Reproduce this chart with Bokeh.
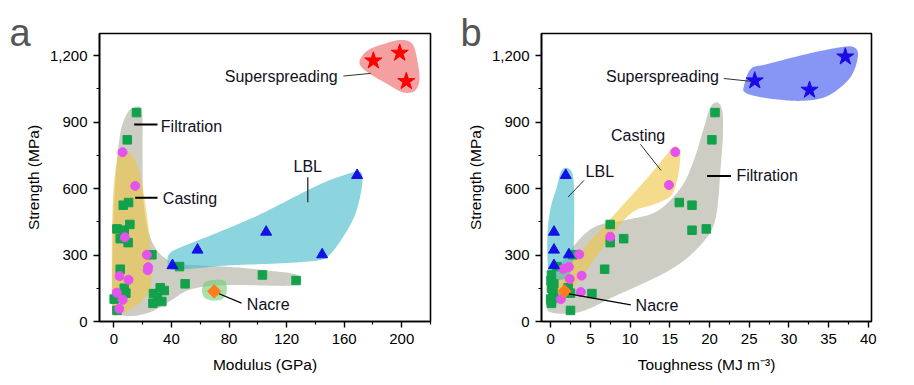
import numpy as np
from bokeh.plotting import figure
from bokeh.layouts import row
from bokeh.models import FixedTicker, NumeralTickFormatter, Label, Range1d
from bokeh.embed import file_html
from bokeh.resources import INLINE

FONT = "Liberation Sans"

# ---------------- data ----------------
# Superspreading
ss_modulus = [180.3, 198.6, 203.2]
ss_strength_a = [1177, 1212, 1084]
ss_toughness = [25.7, 32.6, 37.1]
ss_strength_b = [1087, 1045, 1195]

# LBL
lbl_strength = [253, 323, 404, 302, 660]
lbl_modulus = [40.7, 58.1, 105.8, 144.7, 169.0]
lbl_toughness = [0.42, 0.42, 0.42, 2.3, 1.9]

# Nacre
nacre_strength = [136]
nacre_modulus = [69.7]
nacre_toughness = [1.75]

# Casting
cast_modulus = [6.0, 14.8, 7.6, 22.9, 23.8, 23.5, 3.9, 10.2, 2.0, 6.1, 3.7]
cast_strength_a = [764, 612, 380, 301, 245, 232, 205, 188, 130, 98, 57]
cast_toughness = [15.7, 14.9, 7.5, 3.6, 2.3, 1.6, 3.9, 2.4, 3.8, 1.3]
cast_strength_b = [765, 616, 383, 303, 246, 237, 207, 192, 133, 101]

# Filtration
filt_strength = [943, 820, 537, 525, 438, 418, 412, 374, 356, 301, 248, 236, 210,
                 185, 170, 152, 150, 140, 128, 126, 107, 101, 90, 82, 50]
filt_modulus = [15.7, 9.3, 10.2, 6.5, 11.1, 2.1, 7.2, 4.4, 9.9, 26.4, 45.6, 4.4, 103.2,
                126.6, 49.5, 32.2, 7.2, 35.0, 8.3, 27.5, 30.3, 0.2, 33.3, 27.1, 2.1]
filt_toughness = [20.7, 20.3, 16.2, 17.8, 7.5, 19.6, 17.8, 9.2, 7.5, 2.8, 0.8, 6.8, 0.1,
                  0.05, 0.4, 2.2, 0.1, 0.3, 2.5, 5.2, 0.4, 0.0, 0.1, 0.1, 2.5]

# Region outlines (panel a: modulus / strength)
reg_a_ss = ([170.6, 176.2, 187.7, 199.3, 207.4, 210.9, 212.3, 208.6, 200.5, 190.0, 176.2],
            [1170, 1223, 1253, 1271, 1253, 1177, 1087, 1039, 1035, 1072, 1125])
reg_a_filt = ([16.4, 10.6, 6.0, 3.7, 2.1, 0.2, -0.9, -1.4, -0.2, 6.0, 16.4, 28.0, 39.6, 51.2,
               65.0, 83.6, 106.7, 122.9, 129.9, 128.7, 122.9, 106.7, 83.6, 60.4, 44.2, 36.1,
               29.2, 24.5, 21.5, 20.1, 19.9, 19.9, 19.2],
              [970, 952, 892, 817, 726, 546, 320, 95, 42, 27, 27, 50, 95, 140, 159, 165, 162,
               162, 177, 203, 218, 230, 245, 253, 260, 283, 328, 395, 486, 606, 771, 907, 959])
reg_a_cast = ([6.0, 11.8, 16.4, 19.9, 23.4, 25.7, 26.2, 23.4, 14.1, 4.9, -0.2, -1.4, -1.4, -0.2, 2.1, 3.7],
              [779, 756, 704, 606, 456, 305, 200, 125, 65, 35, 35, 140, 395, 606, 726, 771])
reg_a_lbl = ([37.3, 38.4, 46.5, 69.7, 97.5, 120.6, 143.8, 162.3, 170.4, 172.7, 171.5, 166.9,
              157.6, 149.5, 143.8, 129.9, 106.7, 78.9, 53.5, 41.9, 38.4],
             [260, 305, 335, 395, 471, 546, 621, 666, 677, 651, 576, 471, 365, 298, 278, 268,
              260, 253, 238, 233, 238])
reg_a_nacre = ([61.6, 63.9, 70.8, 77.1, 78.5, 75.5, 68.5, 63.2, 61.3],
               [155, 180, 188, 182, 140, 102, 95, 107, 132])

# Region outlines (panel b: toughness / strength)
reg_b_ss = ([24.3, 25.2, 27.3, 32.3, 36.5, 38.2, 38.7, 38.0, 36.5, 34.4, 31.5, 28.1, 25.6, 24.5],
            [1057, 1140, 1162, 1208, 1238, 1238, 1200, 1117, 1057, 1011, 996, 1004, 1019, 1034])
reg_b_filt = ([21.0, 21.6, 21.7, 21.4, 21.0, 20.4, 19.3, 17.2, 14.7, 11.3, 8.0, 5.0, 2.9, 0.4,
               -0.5, -0.3, 0.4, 2.1, 4.2, 6.3, 9.7, 13.4, 16.4, 18.0, 19.3, 20.1],
              [989, 951, 845, 694, 513, 423, 362, 287, 226, 166, 113, 60, 38, 38, 60, 121, 211,
               302, 392, 438, 460, 498, 604, 725, 875, 966])
reg_b_cast = ([15.5, 16.2, 16.3, 15.9, 15.1, 13.0, 10.5, 8.4, 5.9, 3.8, 2.1, 1.05, 0.0, 0.0,
               1.3, 4.2, 8.4, 12.2, 14.3],
              [789, 777, 725, 634, 566, 528, 498, 423, 302, 196, 128, 106, 113, 151, 226, 332,
               498, 649, 740])
reg_b_lbl = ([1.9, 2.7, 2.95, 2.95, 2.8, 2.1, 0.4, -0.3, -0.4, 0.0, 0.76, 1.26],
             [694, 672, 589, 392, 272, 200, 190, 230, 392, 513, 604, 672])

# Tick definitions
x_a_major = [0, 40, 80, 120, 160, 200]
x_a_minor = [20, 60, 100, 140, 180, 220]
x_b_major = [0, 5, 10, 15, 20, 25, 30, 35, 40]
x_b_minor = [2.5, 7.5, 12.5, 17.5, 22.5, 27.5, 32.5, 37.5]
y_major = [0, 300, 600, 900, 1200]
y_minor = [150, 450, 750, 1050]

# ---------------- styling helpers ----------------
C_GRAY = "#acac9d"
C_YEL = "#eec53f"
C_CYAN = "#3fb7c8"
C_RED = "#ed6161"
C_BLUE = "#3750ee"
C_NACRE = "#71cd71"

C_SQ = "#13a14c"
C_CIRC = "#e553ef"
C_TRI = "#1212e6"
C_DIA = "#ff7d1e"
TXT = "#111122"


def smooth(xs, ys, n=14):
    P = np.column_stack([xs, ys]).astype(float)
    m = len(P)
    out = []
    for i in range(m):
        p0, p1, p2, p3 = P[(i - 1) % m], P[i], P[(i + 1) % m], P[(i + 2) % m]
        for t in np.linspace(0, 1, n, endpoint=False):
            t2, t3 = t * t, t * t * t
            pt = 0.5 * ((2 * p1) + (-p0 + p2) * t + (2 * p0 - 5 * p1 + 4 * p2 - p3) * t2
                        + (-p0 + 3 * p1 - 3 * p2 + p3) * t3)
            out.append(pt)
    out = np.array(out)
    return list(out[:, 0]), list(out[:, 1])


def make_fig(xr, width, border_left, border_right, xlabel, xmaj, xmin, letter, letter_offset):
    p = figure(width=width, height=380, output_backend="svg", toolbar_location=None,
               x_range=Range1d(*xr), y_range=Range1d(0, 1300),
               min_border_left=border_left, min_border_right=border_right,
               min_border_top=33, min_border_bottom=59)
    p.title.text = letter
    p.title.text_font = FONT
    p.title.text_font_size = "38px"
    p.title.text_font_style = "normal"
    p.title.text_color = "#555555"
    p.title.align = "left"
    p.title.offset = letter_offset
    p.title.standoff = -40
    p.xgrid.visible = False
    p.ygrid.visible = False
    p.outline_line_color = "black"
    p.outline_line_width = 1.6
    p.outline_line_alpha = 1.0
    p.background_fill_color = "white"
    p.border_fill_color = "white"
    p.xaxis.ticker = FixedTicker(ticks=xmaj, minor_ticks=xmin)
    p.yaxis.ticker = FixedTicker(ticks=y_major, minor_ticks=y_minor)
    p.yaxis.formatter = NumeralTickFormatter(format="0,0")
    p.xaxis.axis_label = xlabel
    p.yaxis.axis_label = "Strength (MPa)"
    for ax in (p.xaxis[0], p.yaxis[0]):
        ax.axis_line_width = 1.6
        ax.axis_line_color = "black"
        ax.major_tick_line_color = "black"
        ax.minor_tick_line_color = "black"
        ax.major_tick_line_width = 1.4
        ax.minor_tick_line_width = 1.2
        ax.major_tick_out = 6
        ax.major_tick_in = 0
        ax.minor_tick_out = 3
        ax.minor_tick_in = 0
        ax.major_label_text_font = FONT
        ax.major_label_text_font_size = "15px"
        ax.major_label_text_color = "black"
        ax.major_label_standoff = 6
        ax.axis_label_text_font = FONT
        ax.axis_label_text_font_size = "15.5px"
        ax.axis_label_text_font_style = "normal"
        ax.axis_label_text_color = "black"
    p.xaxis.axis_label_standoff = 9
    p.yaxis.axis_label_standoff = 5
    return p


def region(p, reg, color):
    xs, ys = smooth(*reg)
    p.patch(xs, ys, fill_color=color, fill_alpha=0.6, line_color=None)


def label(p, x, y, text, align="left"):
    p.add_layout(Label(x=x, y=y, text=text, text_font=FONT, text_font_size="16px",
                       text_color=TXT, text_align=align, text_baseline="middle"))


def leader(p, x0, y0, x1, y1, width=1.2, color="#222222"):
    p.line([x0, x1], [y0, y1], line_color=color, line_width=width)


def draw_points(p, fx, fy, cx, cy, lx, ly, nx, ny, sx, sy, star_color):
    p.scatter(fx, fy, marker="square", size=8.5, color=C_SQ)
    p.scatter(cx, cy, marker="circle", size=9, color=C_CIRC)
    p.scatter(lx, ly, marker="triangle", size=11, color=C_TRI)
    p.scatter(nx, ny, marker="square", size=9.5, angle=np.pi / 4, color=C_DIA)
    p.scatter(sx, sy, marker="star", size=18, color=star_color)


# ---------------- panel a ----------------
pa = make_fig((-10, 220), 458, 99, 28, "Modulus (GPa)", x_a_major, x_a_minor, "a", -90)
region(pa, reg_a_filt, C_GRAY)
region(pa, reg_a_cast, C_YEL)
region(pa, reg_a_lbl, C_CYAN)
region(pa, reg_a_nacre, C_NACRE)
region(pa, reg_a_ss, C_RED)

draw_points(pa, filt_modulus, filt_strength, cast_modulus, cast_strength_a,
            lbl_modulus, lbl_strength, nacre_modulus, nacre_strength,
            ss_modulus, ss_strength_a, "#ff0000")

leader(pa, 159.5, 1108, 178.5, 1120, 1.0, "#333333")
leader(pa, 14.1, 889, 30.3, 889, 2.0, "black")
leader(pa, 14.8, 559, 30.3, 559, 2.0, "black")
leader(pa, 134.7, 651, 134.7, 538, 1.5, "#444444")
leader(pa, 73.1, 125, 88.7, 83, 1.2, "black")

label(pa, 155.5, 1105, "Superspreading", "right")
label(pa, 32.6, 882, "Filtration")
label(pa, 34.0, 555, "Casting")
label(pa, 134.7, 700, "LBL", "center")
label(pa, 92.4, 77, "Nacre")

# ---------------- panel b ----------------
pb = make_fig((-1.15, 40.4), 433, 83, 20, "Toughness (MJ m\u207b\u00b3)", x_b_major, x_b_minor, "b", -81)
region(pb, reg_b_filt, C_GRAY)
region(pb, reg_b_cast, C_YEL)
region(pb, reg_b_lbl, C_CYAN)
region(pb, reg_b_ss, C_BLUE)

draw_points(pb, filt_toughness, filt_strength, cast_toughness, cast_strength_b,
            lbl_toughness, lbl_strength, nacre_toughness, nacre_strength,
            ss_toughness, ss_strength_b, "#1a0ae6")

leader(pb, 21.8, 1097, 25.2, 1084, 1.0, "#333333")
leader(pb, 11.3, 800, 13.9, 682, 1.0, "#333333")
leader(pb, 4.2, 637, 2.2, 562, 1.0, "#333333")
leader(pb, 19.7, 657, 22.7, 657, 2.0, "black")
leader(pb, 2.3, 125, 10.1, 75, 1.2, "black")

label(pb, 21.2, 1105, "Superspreading", "right")
label(pb, 7.6, 838, "Casting")
label(pb, 4.4, 675, "LBL")
label(pb, 23.4, 657, "Filtration")
label(pb, 10.7, 72, "Nacre")

layout = row(pa, pb)
open("out.html", "w").write(file_html(layout, INLINE))
